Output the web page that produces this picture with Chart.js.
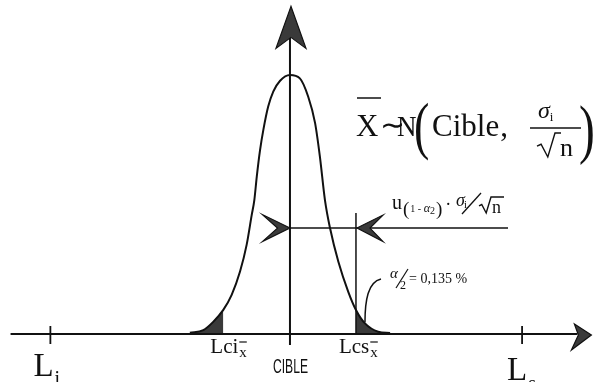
<!DOCTYPE html>
<html>
<head>
<meta charset="utf-8">
<script src="https://cdn.jsdelivr.net/npm/chart.js@4.4.0/dist/chart.umd.min.js"></script>
<style>
  html, body { margin: 0; padding: 0; background: #fff; }
  #wrap { width: 596px; height: 382px; position: relative; }
</style>
</head>
<body>
<div id="wrap"><canvas id="chart"></canvas></div>
<script>
// bell curve of the sample mean, x in sigma units around the target, y relative to the peak
const curveX = [-4.55, -3.94, -3.49, -3.03, -2.65, -2.27, -1.97, -1.74, -1.62, -1.51, -1.36, -1.21, -0.99, -0.76, -0.45,
                0, 0.45, 0.83, 1.14, 1.36, 1.59, 1.82, 2.20, 2.65, 3.0, 3.41, 4.01, 4.55];
const curveY = [0.005, 0.015, 0.047, 0.093, 0.151, 0.241, 0.344, 0.459, 0.517, 0.607, 0.710, 0.788, 0.878, 0.936, 0.978,
                1.0, 0.987, 0.916, 0.815, 0.685, 0.517, 0.409, 0.279, 0.163, 0.093, 0.041, 0.009, 0.004];

// limits on the horizontal axis
const tickNames = ['Li', 'Lci', 'CIBLE', 'Lcs', 'Ls'];
const tickValues = [-10.89, -3.03, 0, 3.0, 10.55];

// width of the half interval u(1-a/2).sigma/sqrt(n) and the level where it is marked
const spanLevel = 0.409;
const spanEnd = 9.91;
const lcsLineTop = 0.467;

const tick = name => tickValues[tickNames.indexOf(name)];
const lci = tick('Lci'), lcs = tick('Lcs');

const pts = curveX.map((v, i) => ({ x: v, y: curveY[i] }));
const leftTail = pts.filter(p => p.x <= lci);
const rightTail = pts.filter(p => p.x >= lcs);

const ink = '#111';
const shade = '#3a3a3a';
const serif = 'Liberation Serif, Times New Roman, serif';

function text(ctx, s, x, y, font) {
  ctx.font = font;
  ctx.fillText(s, x, y);
  return x + ctx.measureText(s).width;
}

// text squeezed horizontally
function narrow(ctx, s, x, y, font, sx, align) {
  ctx.save();
  ctx.font = font;
  ctx.textAlign = align || 'left';
  ctx.translate(x, y);
  ctx.scale(sx, 1);
  ctx.fillText(s, 0, 0);
  ctx.restore();
}

function seg(ctx, x1, y1, x2, y2, w) {
  ctx.lineWidth = w;
  ctx.beginPath();
  ctx.moveTo(x1, y1);
  ctx.lineTo(x2, y2);
  ctx.stroke();
}

// arrow head: tip, barb, notch, barb
function head(ctx, tx, ty, p) {
  ctx.beginPath();
  ctx.moveTo(tx, ty);
  p.forEach(q => ctx.lineTo(tx + q[0], ty + q[1]));
  ctx.closePath();
  ctx.fillStyle = shade;
  ctx.fill();
  ctx.lineWidth = 1.2;
  ctx.stroke();
  ctx.fillStyle = ink;
}

function radical(ctx, x, y, h, len) {
  ctx.lineWidth = 1.4;
  ctx.beginPath();
  ctx.moveTo(x, y + h * 0.55);
  ctx.lineTo(x + h * 0.17, y + h * 0.47);
  ctx.lineTo(x + h * 0.45, y + h);
  ctx.lineTo(x + h * 0.75, y);
  ctx.lineTo(x + h * 0.75 + len, y);
  ctx.stroke();
}

const sketch = {
  id: 'sketch',
  afterDatasetsDraw(chart) {
    const { ctx, scales: { x, y } } = chart;
    const px = v => x.getPixelForValue(v);
    const py = v => y.getPixelForValue(v);
    const x0 = px(0), y0 = py(0);

    ctx.save();
    ctx.strokeStyle = ink;
    ctx.fillStyle = ink;
    ctx.textBaseline = 'alphabetic';

    // axes
    seg(ctx, px(-12.7), y0, px(13.7) - 14, y0, 2);
    head(ctx, px(13.7), y0 + 1, [[-17, -11], [-13, 0], [-20, 15]]);
    seg(ctx, x0, y0 + 11, x0, py(1.265) + 31, 2);
    head(ctx, x0 + 1, py(1.265), [[-15, 42], [0, 31], [15, 42]]);

    // limit ticks
    ['Li', 'Ls'].forEach(n => seg(ctx, px(tick(n)), y0 - 8, px(tick(n)), y0 + 10, 1.8));

    // upper control limit and the half interval arrows
    seg(ctx, px(lcs), py(lcsLineTop), px(lcs), y0, 1.5);
    const ys = py(spanLevel);
    seg(ctx, x0, ys, px(spanEnd), ys, 1.5);
    head(ctx, x0, ys, [[-27.5, -13.5], [-12.5, 0], [-27.5, 13.5]]);
    head(ctx, px(lcs) + 1, ys, [[26, -13], [13, 0], [26, 13.5]]);

    // axis labels
    let t = px(tick('Li'));
    let e = text(ctx, 'L', t - 17, 376, '33px ' + serif);
    text(ctx, 'i', e + 1, 385, '20px ' + serif);
    t = px(tick('Ls'));
    e = text(ctx, 'L', t - 15, 380, '33px ' + serif);
    text(ctx, 's', e + 1, 390, '20px ' + serif);

    [['Lci', lci, -13], ['Lcs', lcs, -17]].forEach(([s, v, dx]) => {
      const a = text(ctx, s, px(v) + dx, 353, '21px ' + serif);
      const b = text(ctx, 'x', a + 1, 357, '15px ' + serif);
      seg(ctx, a + 1, 342, b, 342, 1.2);
    });

    ctx.font = '21px Liberation Sans, Arial, sans-serif';
    const cw = ctx.measureText('CIBLE').width;
    narrow(ctx, 'CIBLE', x0 + 0.5, 373, ctx.font, 35 / cw, 'center');

    // distribution of the mean
    text(ctx, 'X', 356, 136, '31px ' + serif);
    seg(ctx, 357, 98, 381, 98, 1.5);
    text(ctx, '∼', 380, 135, '30px ' + serif);
    narrow(ctx, 'N', 397, 136, '30px ' + serif, 0.9);
    narrow(ctx, '(', 414, 147, '64px ' + serif, 0.72);
    e = text(ctx, 'Cible', 432, 136, '31px ' + serif);
    text(ctx, ',', e + 1, 136, '31px ' + serif);
    e = text(ctx, 'σ', 538, 118, 'italic 24px ' + serif);
    text(ctx, 'i', e, 121, '13px ' + serif);
    seg(ctx, 530, 128, 581, 128, 1.5);
    radical(ctx, 537, 133, 24, 6);
    text(ctx, 'n', 560, 156, '26px ' + serif);
    narrow(ctx, ')', 579, 151, '66px ' + serif, 0.72);

    // u(1-a/2) . sigma / sqrt(n)
    e = text(ctx, 'u', 392, 209, '20px ' + serif);
    e = text(ctx, '(', e + 1, 215, '19px ' + serif);
    e = text(ctx, '1 - ', e + 1, 212, '10px ' + serif);
    e = text(ctx, 'α', e, 212, 'italic 12px ' + serif);
    e = text(ctx, '2', e, 214, '10px ' + serif);
    e = text(ctx, ')', e + 1, 215, '19px ' + serif);
    text(ctx, '·', e + 3, 210, '18px ' + serif);
    e = text(ctx, 'σ', 456, 206, 'italic 18px ' + serif);
    text(ctx, 'i', e - 1, 208, '11px ' + serif);
    seg(ctx, 462, 214, 481, 193, 1.3);
    radical(ctx, 479, 197, 16, 13);
    text(ctx, 'n', 492, 213, '18px ' + serif);

    // tail probability
    ctx.lineWidth = 1.5;
    ctx.beginPath();
    ctx.moveTo(px(lcs) + 9, py(0.045));
    ctx.bezierCurveTo(365, 300, 368, 282, 381, 279);
    ctx.stroke();
    text(ctx, 'α', 390, 278, 'italic 15px ' + serif);
    seg(ctx, 396, 288, 408, 269, 1.2);
    text(ctx, '2', 400, 289, '12px ' + serif);
    text(ctx, '= 0,135 %', 409, 283, '14px ' + serif);

    ctx.restore();
  }
};

new Chart(document.getElementById('chart'), {
  type: 'line',
  data: {
    datasets: [
      {
        data: pts,
        borderColor: ink,
        borderWidth: 2,
        pointRadius: 0,
        fill: false,
        cubicInterpolationMode: 'monotone',
        order: 0
      },
      {
        data: leftTail,
        borderWidth: 0,
        pointRadius: 0,
        backgroundColor: shade,
        fill: 'origin',
        cubicInterpolationMode: 'monotone',
        order: 1
      },
      {
        data: rightTail,
        borderWidth: 0,
        pointRadius: 0,
        backgroundColor: shade,
        fill: 'origin',
        cubicInterpolationMode: 'monotone',
        order: 1
      }
    ]
  },
  options: {
    responsive: true,
    maintainAspectRatio: false,
    animation: false,
    layout: { padding: 0 },
    plugins: { legend: { display: false }, tooltip: { enabled: false } },
    scales: {
      x: { type: 'linear', display: false, min: -13.18, max: 13.91 },
      y: { type: 'linear', display: false, min: -0.1853, max: 1.2896 }
    }
  },
  plugins: [sketch]
});
</script>
</body>
</html>
